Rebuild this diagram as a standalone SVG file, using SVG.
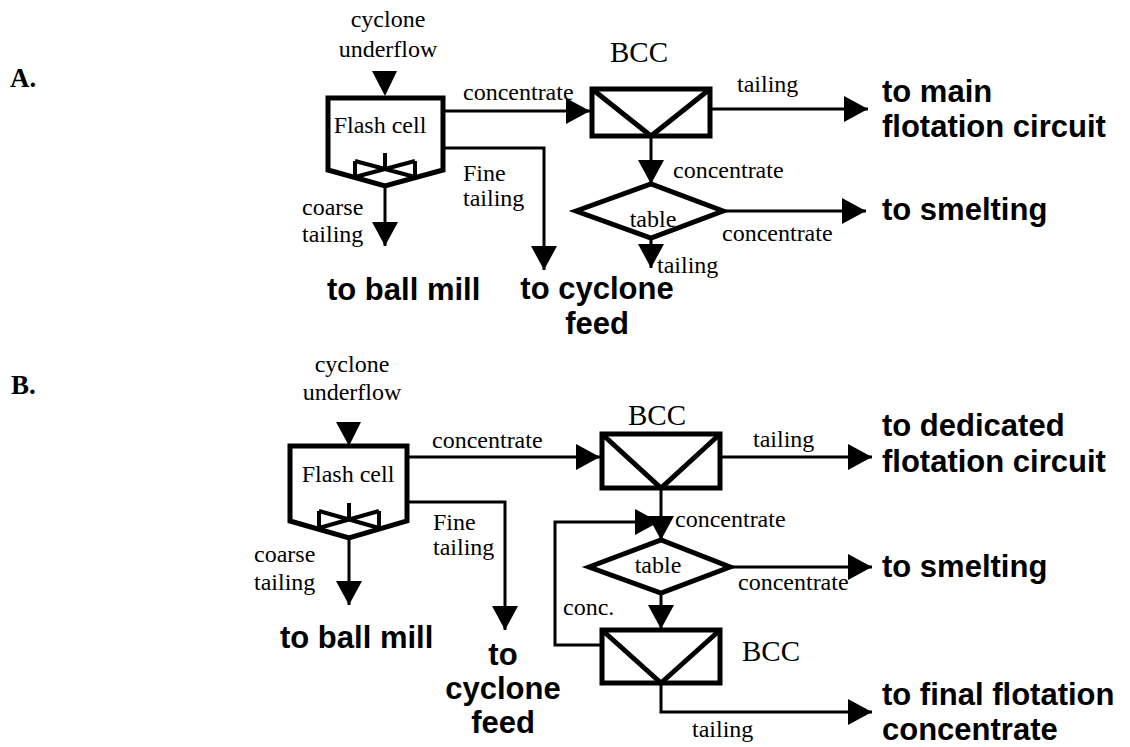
<svg xmlns="http://www.w3.org/2000/svg" width="1130" height="747" viewBox="0 0 1130 747">
<defs>
<marker id="ah" viewBox="0 0 24 26" refX="24" refY="13" markerWidth="24" markerHeight="26" markerUnits="userSpaceOnUse" orient="auto">
<path d="M0,0 L24,13 L0,26 Z" fill="#000"/>
</marker>
<style>
.box{fill:none;stroke:#000;stroke-width:5;stroke-linejoin:miter}
.imp{fill:none;stroke:#000;stroke-width:4}
.con{fill:none;stroke:#000;stroke-width:3;marker-end:url(#ah)}
.s{font-family:"Liberation Serif","Times New Roman",serif;font-size:24px;fill:#000}
.bcc{font-family:"Liberation Serif","Times New Roman",serif;font-size:29px;fill:#000}
.lab{font-family:"Liberation Serif","Times New Roman",serif;font-size:27px;font-weight:bold;fill:#000}
.b{font-family:"Liberation Sans",Arial,Helvetica,sans-serif;font-size:31px;font-weight:bold;fill:#000}
</style>
</defs>
<rect width="1130" height="747" fill="#fff"/>

<text class="lab" x="10" y="87">A.</text>
<text class="lab" x="11" y="394">B.</text>

<!-- ===== Diagram A ===== -->
<g id="A-feed">
<text class="s" x="388" y="27" text-anchor="middle">cyclone</text>
<text class="s" x="388" y="57" text-anchor="middle">underflow</text>
<polygon points="372,71 397,71 385,96" fill="#000"/>
</g>
<g id="A-flash-cell">
<path class="box" d="M328,98 H443 V170 L385,186 L328,170 Z"/>
<path class="imp" d="M385,153 V170 M355,161 L415,177 M355,177 L415,161 M355,161 V177 M415,161 V177"/>
<text class="s" x="380" y="133" text-anchor="middle">Flash cell</text>
</g>
<g id="A-bcc">
<rect class="box" x="592" y="89" width="118" height="47"/>
<path class="box" d="M592,89 L651,136 L710,89"/>
<text class="bcc" x="639" y="62" text-anchor="middle">BCC</text>
</g>
<g id="A-table">
<polygon class="box" points="576,211 651,184 723,211 651,238"/>
<text class="s" x="653" y="227" text-anchor="middle">table</text>
</g>
<g id="A-connectors">
<line class="con" x1="445" y1="111" x2="590" y2="111"/>
<line class="con" x1="712" y1="109" x2="868" y2="109"/>
<line class="con" x1="651" y1="138" x2="651" y2="184"/>
<line class="con" x1="723" y1="211" x2="866" y2="211"/>
<line class="con" x1="651" y1="238" x2="651" y2="268"/>
<polyline class="con" points="443,148 544,148 544,270"/>
<line class="con" x1="385" y1="186" x2="385" y2="246"/>
</g>
<g id="A-labels">
<text class="s" x="463" y="100">concentrate</text>
<text class="s" x="737" y="92">tailing</text>
<text class="s" x="673" y="178">concentrate</text>
<text class="s" x="722" y="241">concentrate</text>
<text class="s" x="657" y="273">tailing</text>
<text class="s" x="463" y="181">Fine</text>
<text class="s" x="463" y="206">tailing</text>
<text class="s" x="302" y="215">coarse</text>
<text class="s" x="302" y="242">tailing</text>
<text class="b" x="882" y="102">to main</text>
<text class="b" x="882" y="137">flotation circuit</text>
<text class="b" x="882" y="220">to smelting</text>
<text class="b" x="327" y="300">to ball mill</text>
<text class="b" x="597" y="299" text-anchor="middle">to cyclone</text>
<text class="b" x="597" y="334" text-anchor="middle">feed</text>
</g>

<!-- ===== Diagram B ===== -->
<g id="B-feed">
<text class="s" x="352" y="372" text-anchor="middle">cyclone</text>
<text class="s" x="352" y="400" text-anchor="middle">underflow</text>
<polygon points="336,422 361,422 349,446" fill="#000"/>
</g>
<g id="B-flash-cell">
<path class="box" d="M290,446 H407 V521 L349,538 L290,521 Z"/>
<path class="imp" d="M349,503 V520 M319,511 L379,528 M319,528 L379,511 M319,511 V528 M379,511 V528"/>
<text class="s" x="348" y="482" text-anchor="middle">Flash cell</text>
</g>
<g id="B-bcc1">
<rect class="box" x="602" y="434" width="118" height="54"/>
<path class="box" d="M602,434 L661,488 L720,434"/>
<text class="bcc" x="657" y="425" text-anchor="middle">BCC</text>
</g>
<g id="B-table">
<polygon class="box" points="589,567 661,540 730,567 661,593"/>
<text class="s" x="658" y="573" text-anchor="middle">table</text>
</g>
<g id="B-bcc2">
<rect class="box" x="602" y="630" width="118" height="53"/>
<path class="box" d="M602,630 L661,683 L720,630"/>
<text class="bcc" x="742" y="661">BCC</text>
</g>
<g id="B-connectors">
<line class="con" x1="409" y1="457" x2="600" y2="457"/>
<line class="con" x1="722" y1="457" x2="872" y2="457"/>
<polyline class="con" points="600,645 555,645 555,522 659,522"/>
<line class="con" x1="661" y1="490" x2="661" y2="540"/>
<line class="con" x1="730" y1="567" x2="872" y2="567"/>
<line class="con" x1="661" y1="593" x2="661" y2="629"/>
<polyline class="con" points="661,685 661,712 872,712"/>
<polyline class="con" points="407,502 505,502 505,630"/>
<line class="con" x1="349" y1="538" x2="349" y2="605"/>
</g>
<g id="B-labels">
<text class="s" x="432" y="448">concentrate</text>
<text class="s" x="753" y="447">tailing</text>
<text class="s" x="675" y="527">concentrate</text>
<text class="s" x="738" y="590">concentrate</text>
<text class="s" x="563" y="615">conc.</text>
<text class="s" x="692" y="737">tailing</text>
<text class="s" x="433" y="530">Fine</text>
<text class="s" x="433" y="555">tailing</text>
<text class="s" x="254" y="562">coarse</text>
<text class="s" x="254" y="590">tailing</text>
<text class="b" x="882" y="436">to dedicated</text>
<text class="b" x="882" y="472">flotation circuit</text>
<text class="b" x="882" y="577">to smelting</text>
<text class="b" x="882" y="705">to final flotation</text>
<text class="b" x="882" y="740">concentrate</text>
<text class="b" x="280" y="648">to ball mill</text>
<text class="b" x="503" y="665" text-anchor="middle">to</text>
<text class="b" x="503" y="699" text-anchor="middle">cyclone</text>
<text class="b" x="503" y="733" text-anchor="middle">feed</text>
</g>
</svg>
